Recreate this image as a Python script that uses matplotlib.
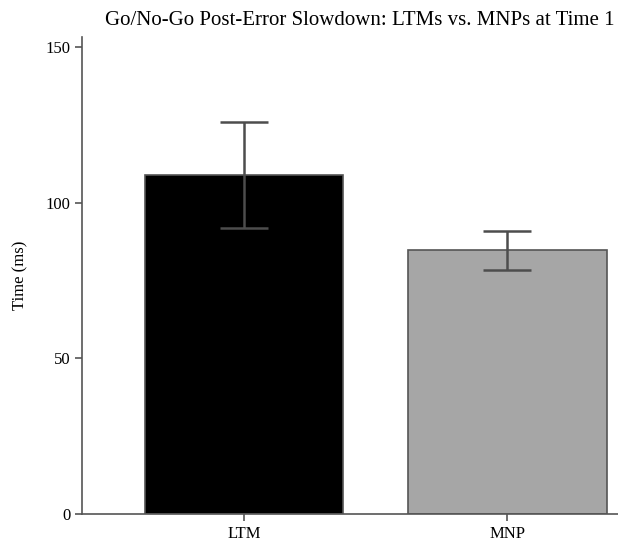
import matplotlib.pyplot as plt

groups = ['LTM', 'MNP']
means = [109, 84.8]
err_upper = [125.8, 90.9]
err_lower = [91.9, 78.5]
bar_colors = ['#000000', '#a6a6a6']

yerr = [[m - lo for m, lo in zip(means, err_lower)],
        [hi - m for m, hi in zip(means, err_upper)]]

plt.rcParams['font.family'] = ['Liberation Serif', 'DejaVu Serif']

fig = plt.figure(figsize=(6.18, 5.42), dpi=100)
ax = fig.add_axes([0.1327, 0.0517, 0.8673, 0.88])

x = range(len(groups))
ax.bar(x, means, width=0.753, color=bar_colors, edgecolor='#555555', linewidth=1.2)
ax.errorbar(x, means, yerr=yerr, fmt='none', ecolor='#4d4d4d', elinewidth=1.8,
            capsize=17, capthick=1.8)

ax.set_xlim(-0.616, 1.42)
ax.set_ylim(0, 153.2)
ax.set_yticks([0, 50, 100, 150])
ax.set_xticks(list(x))
ax.set_xticklabels(groups)
ax.set_ylabel('Time (ms)', fontsize=12, labelpad=12)

for side in ['top', 'right']:
    ax.spines[side].set_visible(False)
for side in ['left', 'bottom']:
    ax.spines[side].set_color('#555555')
    ax.spines[side].set_linewidth(1.2)
ax.tick_params(colors='#555555', labelcolor='black', labelsize=12, length=5, width=1.2)

fig.text(0.995, 0.963, 'Go/No-Go Post-Error Slowdown: LTMs vs. MNPs at Time 1',
         ha='right', va='center', fontsize=15)

fig.savefig('out.png', dpi=100)
